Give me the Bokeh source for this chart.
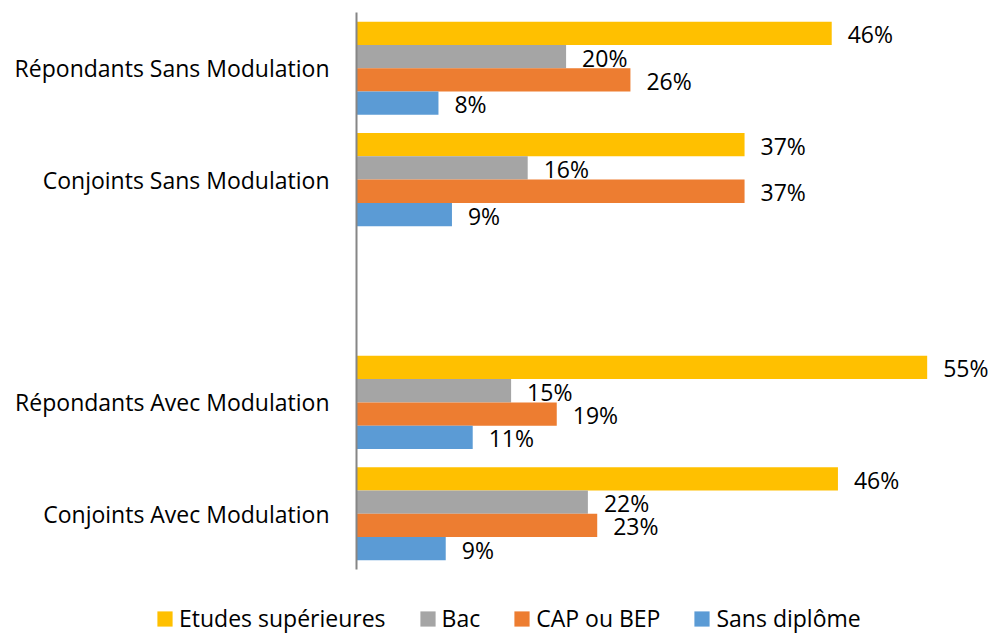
from bokeh.plotting import figure
from bokeh.models import ColumnDataSource, Range1d, Legend, LegendItem
from bokeh.transform import dodge
from bokeh.core.properties import value
from bokeh.embed import file_html
from bokeh.resources import INLINE

categories = ["Répondants Sans Modulation", "Conjoints Sans Modulation",
              "Répondants Avec Modulation", "Conjoints Avec Modulation"]
series_names = ["Etudes supérieures", "Bac", "CAP ou BEP", "Sans diplôme"]
etudes = [45.8, 37.4, 55.0, 46.4]
bac = [20.2, 16.5, 14.9, 22.3]
cap = [26.4, 37.4, 19.3, 23.2]
sans = [7.9, 9.2, 11.2, 8.6]
colors = ["#FFC000", "#A5A5A5", "#ED7D31", "#5B9BD5"]

FONT = "Open Sans"
FS = "23px"

# display order top to bottom, with an empty slot between the two blocks
display_slots = [categories[0], categories[1], None, categories[2], categories[3]]
n_slots = len(display_slots)
pos = [n_slots - 1 - display_slots.index(c) for c in categories]

W, H = 988, 634
LEFT_PX, TOP_PX = 356, 12
band_px = 557 / n_slots           # pixel height of one category slot
px_per_pct = 10.376
y_top = (n_slots - 0.5) + TOP_PX / band_px
y_bot = y_top - H / band_px

p = figure(width=W, height=H,
           x_range=Range1d(-LEFT_PX / px_per_pct, (W - LEFT_PX) / px_per_pct),
           y_range=Range1d(y_bot, y_top),
           output_backend="svg", toolbar_location=None,
           x_axis_location=None, y_axis_location=None,
           min_border_left=0, min_border_right=0, min_border_top=0, min_border_bottom=0)
p.outline_line_color = None
p.xgrid.grid_line_color = None
p.ygrid.grid_line_color = None

src = ColumnDataSource(dict(cat=categories, pos=pos, etudes=etudes, bac=bac, cap=cap, sans=sans,
                            zero=[0] * len(categories),
                            l_etudes=[f"{v:.0f}%" for v in etudes],
                            l_bac=[f"{v:.0f}%" for v in bac],
                            l_cap=[f"{v:.0f}%" for v in cap],
                            l_sans=[f"{v:.0f}%" for v in sans]))

bh = 0.209
offsets = [1.5 * bh, 0.5 * bh, -0.5 * bh, -1.5 * bh]
cols = ["etudes", "bac", "cap", "sans"]
items = []
for col, off, color, name in zip(cols, offsets, colors, series_names):
    r = p.hbar(y=dodge("pos", off), right=col, left=0, height=bh,
               fill_color=color, line_color=None, source=src)
    p.text(x=col, y=dodge("pos", off), text="l_" + col, source=src,
           x_offset=16, y_offset=1, text_align="left", text_baseline="middle",
           text_font=value(FONT), text_font_size=FS, text_color="#000000")
    items.append(LegendItem(label=name, renderers=[r]))

# category axis: vertical line and labels
p.segment(x0=0, x1=0, y0=min(pos) - 0.5, y1=max(pos) + 0.5,
          line_color="#868686", line_width=2)
p.text(x="zero", y="pos", text="cat", source=src, x_offset=-27,
       text_align="right", text_baseline="middle",
       text_font=value(FONT), text_font_size=FS, text_color="#000000")

legend = Legend(items=items, orientation="horizontal", location=(155, 0),
                glyph_width=19, glyph_height=19, label_standoff=5, spacing=32,
                padding=0, margin=0, border_line_color=None, background_fill_alpha=0,
                label_text_font=FONT, label_text_font_size=FS, label_text_color="#000000")
p.add_layout(legend, "center")

open("out.html", "w").write(file_html(p, INLINE))
